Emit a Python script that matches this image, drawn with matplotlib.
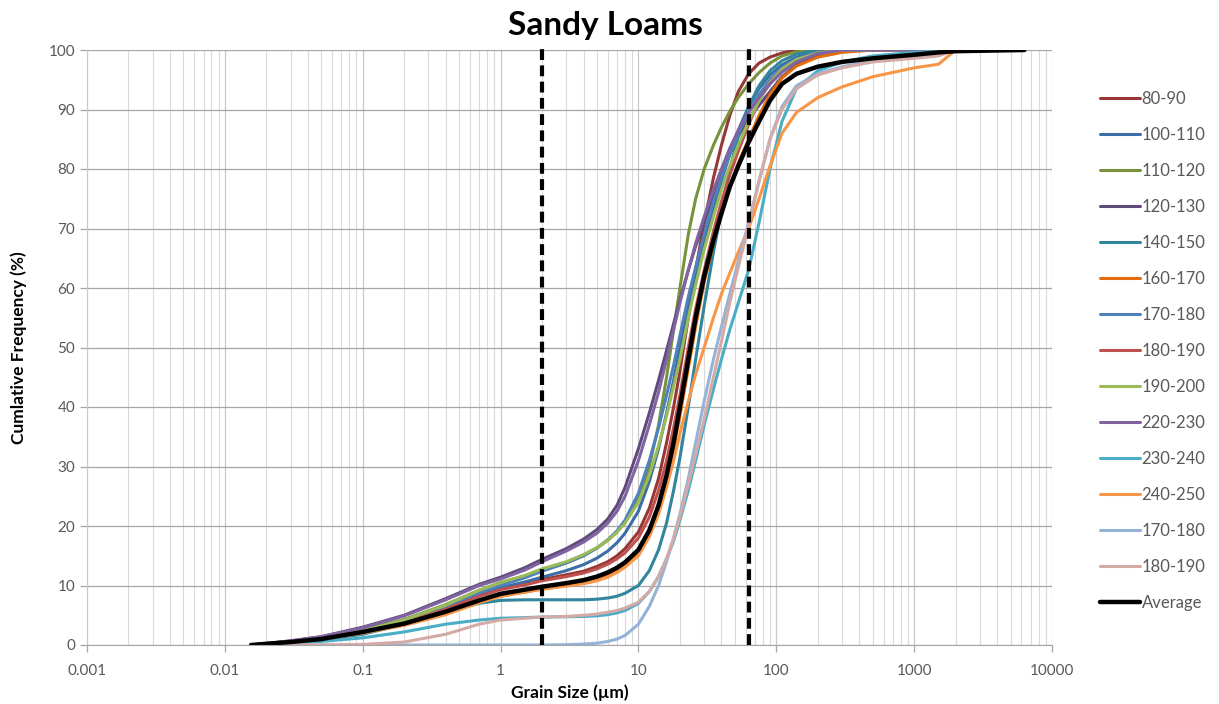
import numpy as np
import matplotlib.pyplot as plt
from matplotlib.ticker import LogLocator, FixedLocator, FixedFormatter, NullFormatter

plt.rcParams['font.family'] = ['Lato', 'DejaVu Sans']

# grain sizes (um) shared by every sample
size = [0.0155, 0.02, 0.03, 0.05, 0.1, 0.2, 0.4, 0.7, 1, 1.5, 2, 3, 4, 5, 6, 7, 8, 10,
        12, 14, 16, 18, 20, 23, 26, 30, 35, 40, 46, 53, 63, 75, 90, 110, 140, 200,
        300, 500, 1000, 1500, 2000, 6300]

# cumulative frequency (%) for each depth interval
s80_90 = [0, 0.2, 0.6, 1.1, 2.4, 4.0, 6.3, 8.5, 9.6, 10.4, 11.0, 11.8, 12.4, 13.2, 14.0,
          15.0, 16.2, 19.0, 23, 28, 34, 40, 46, 55, 63, 71, 78.5, 84, 89, 93, 96,
          97.8, 98.8, 99.5, 100, 100, 100, 100, 100, 100, 100, None]
s100_110 = [0, 0.2, 0.6, 1.1, 2.5, 4.1, 6.4, 8.5, 9.6, 10.6, 11.4, 12.5, 13.5, 14.6, 15.8,
            17.2, 18.8, 22.5, 27.5, 33, 39, 44.5, 50, 57, 62.5, 68, 73.5, 78, 82.5, 86.5,
            90.5, 93.5, 95.8, 97.5, 98.8, 99.7, 100, 100, 100, 100, 100, None]
s110_120 = [0, 0.2, 0.6, 1.2, 2.6, 4.3, 6.8, 9.2, 10.5, 11.6, 12.5, 13.8, 15.0, 16.3, 17.6,
            19.0, 20.6, 24.5, 30, 37, 45, 53, 60, 69, 75, 80, 84, 87, 89.7, 92, 94.3,
            96.2, 97.8, 99, 99.7, 100, 100, 100, 100, 100, 100, None]
s120_130 = [0, 0.25, 0.7, 1.4, 3.0, 5.0, 7.8, 10.2, 11.4, 13.0, 14.4, 16.2, 17.8, 19.4, 21.2,
            23.5, 26.5, 33, 39, 44.5, 49.5, 54, 58, 63, 67, 71, 75.5, 79, 82.5, 85.5, 88.5,
            90.7, 93, 95.5, 97.5, 99.2, 100, 100, 100, 100, 100, None]
s140_150 = [0, 0.2, 0.5, 0.9, 1.8, 3.5, 5.6, 7.0, 7.5, 7.6, 7.6, 7.6, 7.6, 7.7, 7.9,
            8.2, 8.7, 10.0, 12.5, 16, 20.5, 26, 31.5, 40, 48, 57, 66, 73, 80, 85.5, 90.5,
            94, 96.5, 98.2, 99.3, 100, 100, 100, 100, 100, 100, None]
s160_170 = [0, 0.2, 0.5, 1.0, 2.1, 3.4, 5.3, 7.2, 8.2, 8.9, 9.4, 10.0, 10.5, 11.1, 11.8,
            12.6, 13.5, 15.5, 18.7, 22.8, 27.5, 33, 38.5, 46.5, 53.5, 61, 67.5, 72.5, 77,
            81, 85, 89, 92.5, 95.3, 97.3, 98.8, 99.6, 100, 100, 100, 100, None]
s170_180 = [0, 0.2, 0.6, 1.1, 2.4, 4.0, 6.5, 8.8, 10.0, 11.3, 12.4, 13.8, 15.0, 16.3, 17.7,
            19.2, 21, 25.5, 31, 36.5, 42, 47, 52, 58.5, 63.5, 69, 74.5, 78.5, 82.5, 86,
            89.5, 92.5, 95, 97, 98.5, 99.6, 100, 100, 100, 100, 100, None]
s180_190 = [0, 0.2, 0.6, 1.1, 2.3, 3.8, 6.0, 8.2, 9.3, 10.1, 10.8, 11.5, 12.1, 12.8, 13.6,
            14.5, 15.5, 18, 21.5, 26, 31, 36.5, 42, 50, 56.5, 63, 69.5, 74.5, 79, 83,
            87.5, 91.5, 94.5, 96.7, 98.3, 99.5, 100, 100, 100, 100, 100, None]
s190_200 = [0, 0.2, 0.6, 1.2, 2.5, 4.2, 6.7, 9.2, 10.5, 11.7, 12.8, 14.0, 15.2, 16.4, 17.6,
            19.0, 20.5, 24, 28.5, 33.5, 38.5, 43.5, 48, 55, 60.5, 66.5, 72, 76.5, 80.5,
            84, 88, 91.5, 94.5, 96.8, 98.4, 99.5, 100, 100, 100, 100, 100, None]
s220_230 = [0, 0.25, 0.7, 1.4, 2.9, 4.9, 7.6, 10.0, 11.1, 12.6, 14.0, 15.8, 17.3, 18.8, 20.5,
            22.5, 25, 31, 37, 42.5, 48, 53, 57.5, 63, 67.5, 72, 76.5, 80, 83.5, 86.5,
            89.5, 92, 94.3, 96.3, 98, 99.4, 100, 100, 100, 100, 100, None]
s230_240 = [0, 0.1, 0.3, 0.6, 1.2, 2.2, 3.5, 4.2, 4.5, 4.6, 4.7, 4.75, 4.8, 4.9, 5.1,
            5.4, 5.8, 7.0, 9.0, 11.5, 14.5, 17.5, 21, 26, 31, 37, 43, 48, 53, 57.5, 63,
            71, 80, 88, 93.5, 96.5, 98, 99, 99.6, 99.8, 100, None]
s240_250 = [0, 0.2, 0.5, 1.0, 2.0, 3.3, 5.1, 7.1, 8.2, 8.9, 9.4, 9.9, 10.3, 10.8, 11.4,
            12.2, 13.1, 15.0, 18.2, 22, 26.5, 31, 35.5, 41, 45.5, 50, 55, 59, 62.5, 66,
            70, 75, 80.5, 86, 89.5, 92, 93.8, 95.5, 97, 97.6, 100, None]
s170_180b = [0, 0, 0, 0, 0, 0, 0, 0, 0, 0, 0, 0.05, 0.15, 0.3, 0.6,
             1.0, 1.6, 3.5, 6.5, 10, 14, 18, 22, 28, 34, 41, 48, 53.5, 59, 64.5, 71,
             78, 85, 90.5, 94, 96, 97.2, 98.2, 99, 99.5, 100, None]
s180_190b = [0, 0, 0, 0, 0.1, 0.5, 1.8, 3.5, 4.2, 4.5, 4.7, 4.8, 5.0, 5.2, 5.5,
             5.8, 6.2, 7.2, 9.0, 11.5, 14.5, 18, 21.5, 27, 32, 38, 45, 51, 57.5, 63.5,
             70.5, 78, 85, 90, 93.5, 95.8, 97, 98, 98.6, 99, 100, None]
average = [0, 0.2, 0.5, 1.0, 2.2, 3.6, 5.6, 7.5, 8.6, 9.3, 9.8, 10.4, 10.9, 11.5, 12.2,
           13.0, 13.9, 16.0, 19.3, 23.5, 28.5, 34, 40, 48, 55, 62, 68, 72.5, 77, 80.5,
           84.5, 88, 91.5, 94.3, 96, 97.2, 98, 98.6, 99.2, 99.6, 99.8, 100]

labels = ['80-90', '100-110', '110-120', '120-130', '140-150', '160-170', '170-180',
          '180-190', '190-200', '220-230', '230-240', '240-250', '170-180', '180-190']
samples = [s80_90, s100_110, s110_120, s120_130, s140_150, s160_170, s170_180,
           s180_190, s190_200, s220_230, s230_240, s240_250, s170_180b, s180_190b]
colors = ['#953735', '#3a6ea5', '#77933c', '#604a7b', '#31859c', '#e46c0a', '#4f81bd',
          '#c0504d', '#9bbb59', '#8064a2', '#4bacc6', '#f79646', '#95b3d7', '#d4aaa6']

# clay/silt and silt/sand boundaries (um)
boundaries = [2, 63]

fig = plt.figure(figsize=(12.19, 7.04), dpi=100)
ax = fig.add_axes([87 / 1219, 59 / 704, 965 / 1219, 595 / 704])

x = np.array(size)
for vals, lab, c in zip(samples, labels, colors):
    y = np.array([np.nan if v is None else v for v in vals], dtype=float)
    ax.plot(x, y, color=c, lw=2.2, label=lab, solid_capstyle='round')
ax.plot(x, average, color='black', lw=3.2, label='Average', solid_capstyle='round')

for b in boundaries:
    ax.plot([b, b], [0, 101], color='black', lw=3.0, linestyle=(0, (2.6, 1.3)),
            clip_on=False, zorder=5)

ax.set_xscale('log')
ax.set_xlim(0.001, 10000)
ax.set_ylim(0, 100)
ax.xaxis.set_major_locator(FixedLocator([0.001, 0.01, 0.1, 1, 10, 100, 1000, 10000]))
ax.xaxis.set_major_formatter(FixedFormatter(['0.001', '0.01', '0.1', '1', '10', '100',
                                             '1000', '10000']))
ax.xaxis.set_minor_locator(LogLocator(base=10, subs=np.arange(2, 10), numticks=20))
ax.xaxis.set_minor_formatter(NullFormatter())
ax.set_yticks(np.arange(0, 101, 10))

ax.grid(True, which='major', axis='y', color='#a6a6a6', lw=0.9)
ax.grid(True, which='major', axis='x', color='#c8c8c8', lw=0.9)
ax.grid(True, which='minor', axis='x', color='#d9d9d9', lw=0.8)
ax.set_axisbelow(True)

for side in ['top', 'right']:
    ax.spines[side].set_visible(False)
ax.spines['bottom'].set_color('#a6a6a6')
ax.spines['left'].set_color('#c8c8c8')
ax.tick_params(axis='both', which='major', colors='#a6a6a6', labelcolor='#595959',
               labelsize=11, length=5, width=0.9)
ax.tick_params(axis='x', which='minor', length=0)
ax.tick_params(axis='x', pad=9)

fig.text(0.497, 1 - 26 / 704, 'Sandy Loams', fontsize=24, fontweight='bold',
         ha='center', va='center')
ax.set_xlabel('Grain Size (µm)', fontsize=12.5, fontweight='bold')
ax.xaxis.set_label_coords(0.5, -0.066)
ax.set_ylabel('Cumlative Frequency (%)', fontsize=12.5, fontweight='bold')
ax.yaxis.set_label_coords(-0.062, 0.5)

fig.legend(loc='upper left', bbox_to_anchor=(1085 / 1219, 1 - 76 / 704), frameon=False,
           fontsize=12, labelspacing=1.2, handlelength=2.4, handletextpad=0.1,
           labelcolor='#595959')

fig.savefig('out.png', dpi=100)
